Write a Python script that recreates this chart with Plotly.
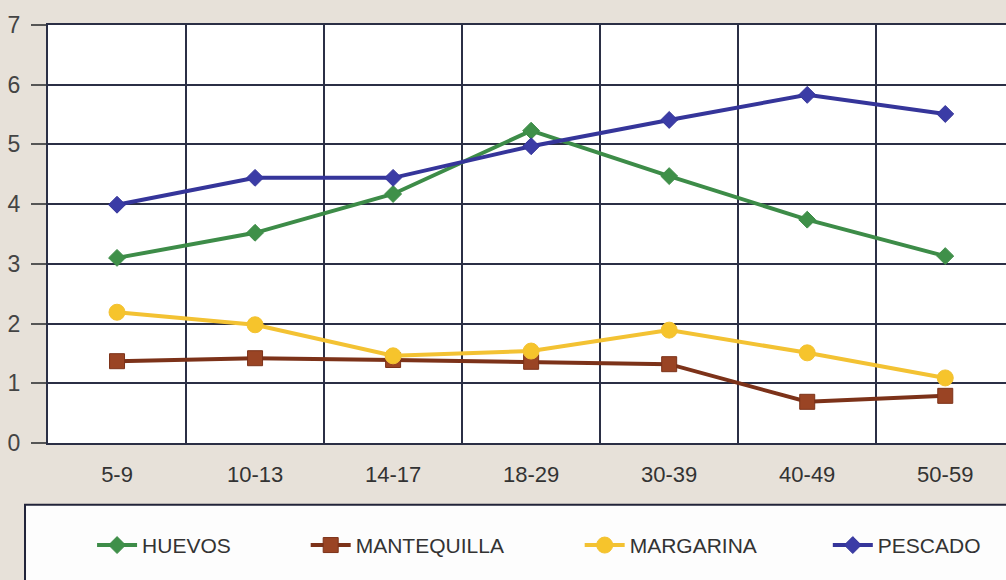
import plotly.graph_objects as go

categories = ["5-9", "10-13", "14-17", "18-29", "30-39", "40-49", "50-59"]
huevos = [3.10, 3.52, 4.17, 5.23, 4.47, 3.74, 3.13]
mantequilla = [1.37, 1.42, 1.39, 1.36, 1.32, 0.69, 0.79]
margarina = [2.19, 1.98, 1.46, 1.54, 1.89, 1.51, 1.09]
pescado = [3.99, 4.44, 4.44, 4.97, 5.41, 5.83, 5.51]
y_ticks = [0, 1, 2, 3, 4, 5, 6, 7]

FONT = "Liberation Sans, Arial, sans-serif"
BG = "#e7e1d9"
GRID = "#2b2f45"
x_idx = list(range(len(categories)))

fig = go.Figure()
series = [
    ("MANTEQUILLA", mantequilla, "#7c3219", "#9a4424", "square", 15, "legend2"),
    ("MARGARINA", margarina, "#f3c233", "#f6c42c", "circle", 16, "legend3"),
    ("HUEVOS", huevos, "#3d8c48", "#3f9049", "diamond", 13, "legend"),
    ("PESCADO", pescado, "#35359a", "#3b3ca6", "diamond", 13, "legend4"),
]
for name, vals, lc, mc, sym, ms, lg in series:
    fig.add_trace(go.Scatter(
        x=x_idx, y=vals, name=name, mode="lines+markers",
        line=dict(color=lc, width=4),
        marker=dict(symbol=sym, size=ms, color=mc, line=dict(color=lc, width=1)),
        legend=lg,
    ))

# legend box
fig.add_shape(type="rect", xref="paper", yref="paper",
              x0=-0.024, x1=1.02, y0=-0.40, y1=-0.148,
              fillcolor="#fdfdfd", line=dict(color="#22243a", width=2), layer="below")

legend_common = dict(orientation="h", yanchor="middle", y=-0.245, xanchor="left",
                     bgcolor="rgba(0,0,0,0)", font=dict(family=FONT, size=21, color="#333333"),
                     itemwidth=40)
fig.update_layout(
    showlegend=True,
    legend=dict(x=0.046, **legend_common),
    legend2=dict(x=0.269, **legend_common),
    legend3=dict(x=0.555, **legend_common),
    legend4=dict(x=0.814, **legend_common),
)

fig.update_layout(
    width=1006, height=580,
    margin=dict(l=48, r=0, t=25, b=137),
    paper_bgcolor=BG, plot_bgcolor="#ffffff",
    font=dict(family=FONT, size=21, color="#333333"),
    xaxis=dict(
        range=[-0.5, 6.44], tickmode="array", tickvals=x_idx, ticktext=categories,
        showgrid=False, zeroline=False, showline=True, linecolor=GRID, linewidth=2,
        mirror=True, ticks="outside", ticklen=11, tickcolor="rgba(0,0,0,0)",
        tickfont=dict(family=FONT, size=22, color="#333333"),
        minor=dict(tickmode="array", tickvals=[0.5, 1.5, 2.5, 3.5, 4.5, 5.5],
                   showgrid=True, gridcolor=GRID, gridwidth=1.5, ticks=""),
        automargin=False,
    ),
    yaxis=dict(
        range=[0, 7], tickmode="array", tickvals=y_ticks,
        showgrid=True, gridcolor=GRID, gridwidth=1.5, zeroline=False,
        showline=True, linecolor=GRID, linewidth=2, mirror=True,
        ticks="outside", ticklen=15, tickcolor="#555555", tickwidth=1.5,
        ticklabelstandoff=6,
        tickfont=dict(family=FONT, size=23, color="#444444"),
        automargin=False,
    ),
)

fig.write_html(
    "out.html",
    config={"displayModeBar": False},
    post_script="document.body.style.margin='0';document.body.style.background='#e7e1d9';",
)
